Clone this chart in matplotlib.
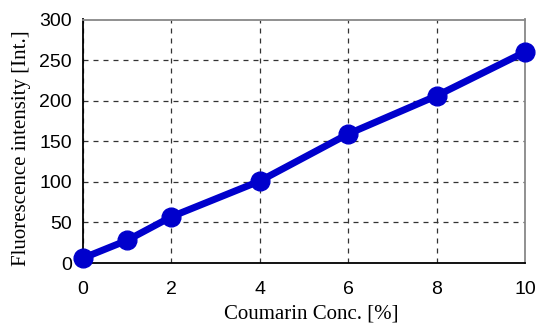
import matplotlib
matplotlib.use("Agg")
import matplotlib.pyplot as plt

conc = [0, 1, 2, 4, 6, 8, 10]
intensity = [6, 28, 57, 101, 159, 206, 260]
xticks = [0, 2, 4, 6, 8, 10]
yticks = [0, 50, 100, 150, 200, 250, 300]

fig = plt.figure(figsize=(5.4, 3.25), dpi=100)
ax = fig.add_axes([83/540, 1-263/325, (525-83)/540, (263-19.5)/325])
ax.plot(conc, intensity, color="#0000CC", lw=5, marker="o", ms=13.5, clip_on=False, zorder=3)
ax.set_xlim(0, 10)
ax.set_ylim(0, 300)
ax.set_xticks(xticks)
ax.set_yticks(yticks)
ax.grid(True, color="#333333", ls=(0, (4, 4)), lw=0.9)
for s in ["left", "bottom"]:
    ax.spines[s].set_color("black")
    ax.spines[s].set_linewidth(1.3)
for s in ["top", "right"]:
    ax.spines[s].set_color("#888888")
    ax.spines[s].set_linewidth(1.3)
ax.tick_params(axis="y", length=0, pad=8, labelsize=14)
ax.tick_params(axis="x", length=0, pad=13, labelsize=14)
for lab in ax.get_xticklabels() + ax.get_yticklabels():
    lab.set_family("Liberation Sans")
ax.set_xlabel("Coumarin Conc. [%]", family="Liberation Serif", fontsize=15)
ax.set_ylabel("Fluorescence intensity [Int.]", family="Liberation Serif", fontsize=15)
ax.xaxis.set_label_coords(0.516, -0.172)
ax.yaxis.set_label_coords(-0.117, 0.472)
fig.savefig("out.png", dpi=100)
